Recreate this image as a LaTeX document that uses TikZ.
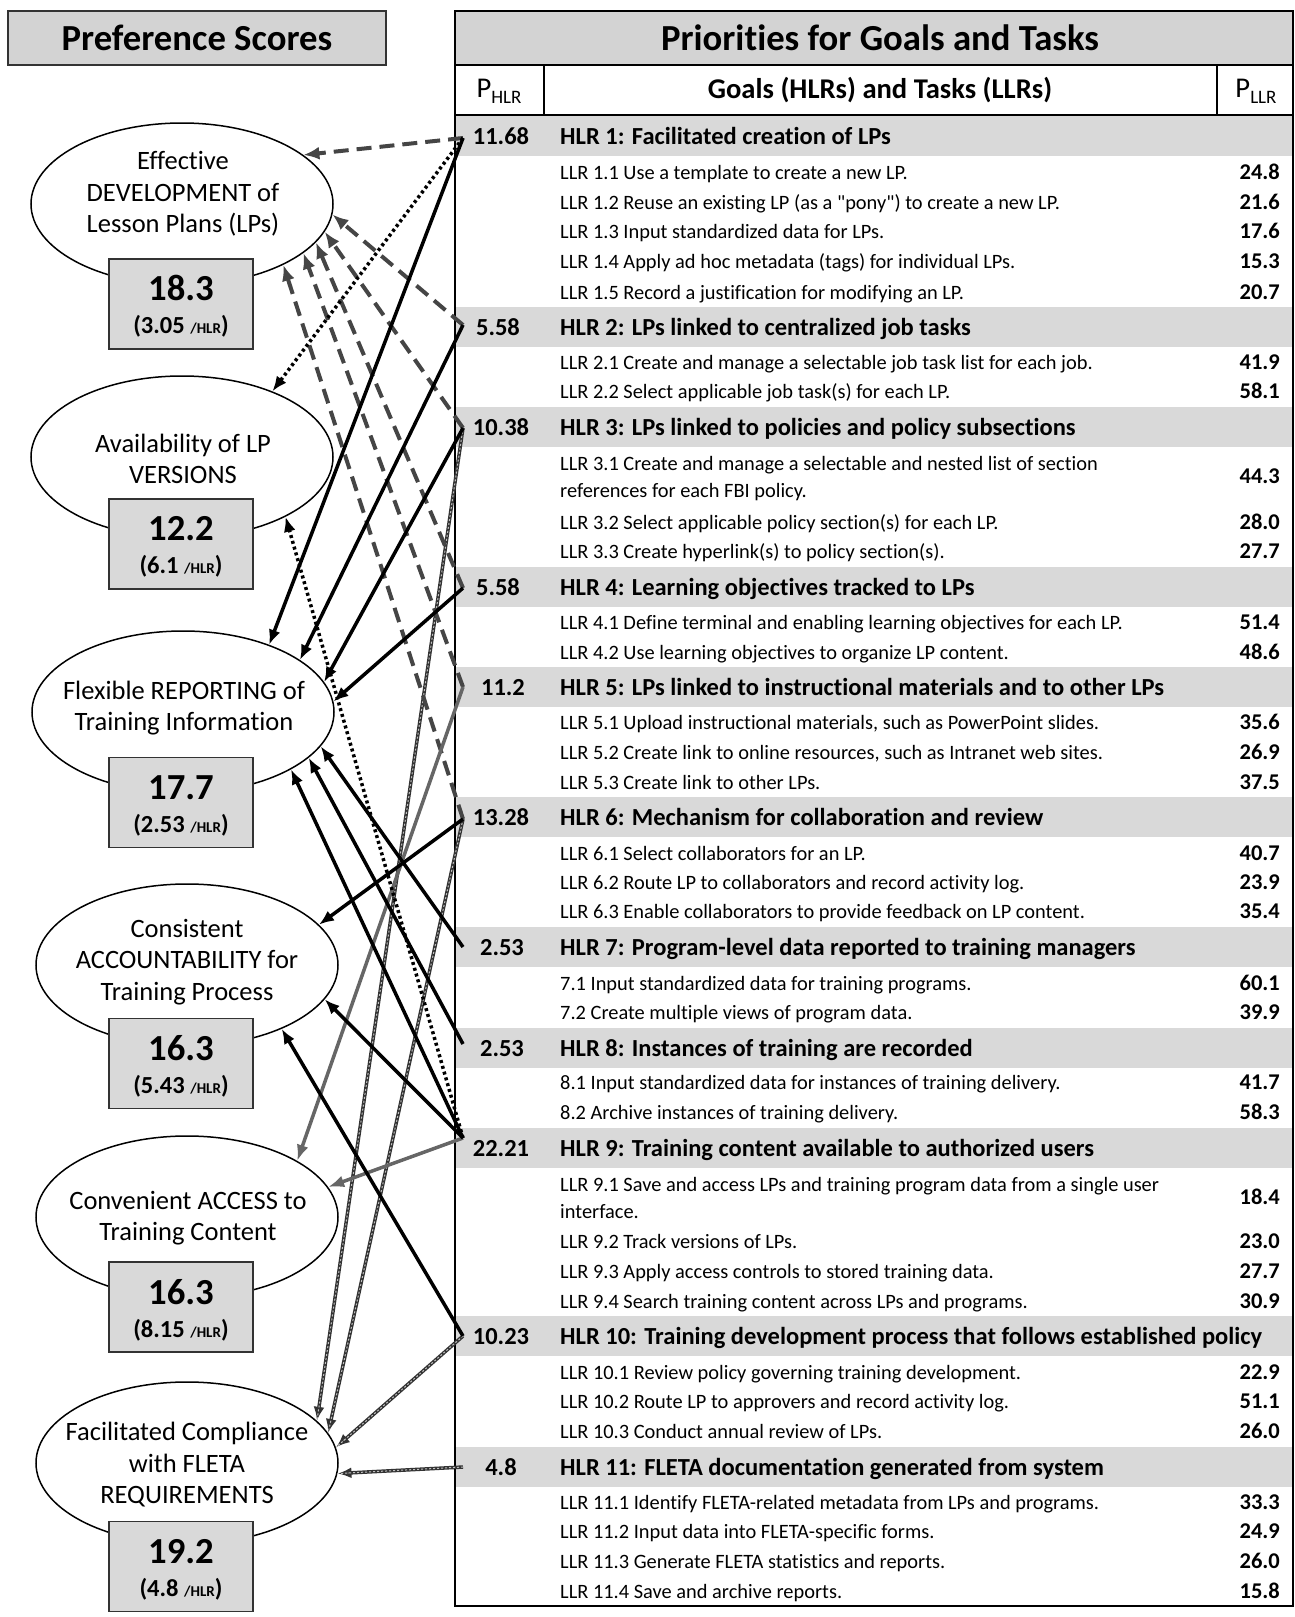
\documentclass[tikz,border=0pt]{standalone}
\usepackage{fontspec}
\setmainfont{Carlito}[Ligatures={NoCommon,TeXOff}]
\usetikzlibrary{shapes.geometric,arrows.meta}
\definecolor{bandgray}{HTML}{D9D9D9}
\definecolor{titlegray}{HTML}{D3D3D3}
\definecolor{dashgray}{HTML}{454545}
\definecolor{solidgray}{HTML}{666666}
\newcommand{\myfs}[2]{\fontsize{#1}{#2}\selectfont}
\begin{document}
\begin{tikzpicture}[x=1pt,y=-1pt,
  hnum/.style={anchor=base, font=\bfseries\myfs{24.5}{28}, inner sep=0pt},
  htxt/.style={anchor=base west, font=\bfseries\myfs{24.5}{28}, inner sep=0pt},
  ltxt/.style={anchor=base west, font=\myfs{20.4}{26.8}, inner sep=0pt},
  lval/.style={anchor=base east, font=\bfseries\myfs{22.5}{26}, inner sep=0pt},
  ell/.style={ellipse, draw=black, line width=1.5pt, minimum width=302pt, minimum height=162pt, inner sep=0pt, fill=white},
  etxt/.style={align=center, font=\myfs{26.5}{31.5}, inner sep=0pt},
  sbox/.style={draw=black!80, line width=1.5pt, fill=bandgray, minimum width=144pt, minimum height=90pt, inner sep=0pt},
  snum/.style={anchor=base, font=\bfseries\myfs{36.7}{40}, inner sep=0pt},
  ssub/.style={anchor=base, font=\bfseries\myfs{24.5}{28}, inner sep=0pt},
  solidarr/.style={draw=black, line width=3.5pt, -{Latex[length=15pt,width=12pt]}},
  dasharr/.style={draw=dashgray, line width=4pt, dash pattern=on 15pt off 8pt, -{Latex[length=16pt,width=13pt]}},
  dotarr/.style={draw=black, line width=3.5pt, dash pattern=on 3pt off 3pt, -{Latex[length=15pt,width=12pt]}},
  grayarr/.style={draw=solidgray, line width=3.5pt, -{Latex[length=16pt,width=12pt]}},
  hatcharr/.style={draw=black!80, line width=3.5pt, -{Latex[length=14pt,width=11pt,fill=gray!45]},
     postaction={draw=white!75!black, -, line width=1pt, dash pattern=on 2pt off 2pt}}
]
\useasboundingbox (0,0) rectangle (1294,1617);

% ---------- left title ----------
\node[draw=black!80, line width=2pt, fill=titlegray, minimum width=378pt, minimum height=54pt, inner sep=0pt,
      font=\bfseries\myfs{36.7}{40}] (pref) at (197,38) {Preference Scores};

% ---------- table background ----------
\fill[titlegray] (455,11) rectangle (1293,65);
\foreach \c in {136,327,427,587,687,817,947,1048,1148,1336,1467}
  \fill[bandgray] (456,\c-20) rectangle (1292,\c+20);
\draw[line width=1.5pt] (455,65) -- (1293,65);
\draw[line width=1.5pt] (455,115) -- (1293,115);
\draw[line width=1.5pt] (544,65) -- (544,115);
\draw[line width=1.5pt] (1217,65) -- (1217,115);
\draw[line width=2pt] (455,11) rectangle (1293,1606);

\node[font=\bfseries\myfs{36.7}{40}, inner sep=0pt] (title) at (880,38) {Priorities for Goals and Tasks};
\node[font=\myfs{28.6}{30}, inner sep=0pt] (phlr) at (499,91) {P\raisebox{-6pt}{\myfs{19}{20}HLR}};
\node[font=\bfseries\myfs{28.6}{30}, inner sep=0pt] (ghead) at (880,90) {Goals (HLRs) and Tasks (LLRs)};
\node[font=\myfs{28.6}{30}, inner sep=0pt] (pllr) at (1256,91) {P\raisebox{-6pt}{\myfs{19}{20}LLR}};

% ---------- HLR 1 ----------
\node[hnum] (n1) at (501,144) {11.68};
\node[htxt] (r1) at (560,144) {HLR 1: Facilitated creation of LPs};
\node[ltxt] (l11) at (560,179) {LLR 1.1 Use a template to create a new LP.};
\node[lval] (v11) at (1280,179) {24.8};
\node[ltxt] (l12) at (560,209) {LLR 1.2 Reuse an existing LP (as a "pony") to create a new LP.};
\node[lval] (v12) at (1280,209) {21.6};
\node[ltxt] (l13) at (560,238) {LLR 1.3 Input standardized data for LPs.};
\node[lval] (v13) at (1280,238) {17.6};
\node[ltxt] (l14) at (560,268) {LLR 1.4 Apply ad hoc metadata (tags) for individual LPs.};
\node[lval] (v14) at (1280,268) {15.3};
\node[ltxt] (l15) at (560,299) {LLR 1.5 Record a justification for modifying an LP.};
\node[lval] (v15) at (1280,299) {20.7};
% ---------- HLR 2 ----------
\node[hnum] (n2) at (498,335) {5.58};
\node[htxt] (r2) at (560,335) {HLR 2: LPs linked to centralized job tasks};
\node[ltxt] (l21) at (560,369) {LLR 2.1 Create and manage a selectable job task list for each job.};
\node[lval] (v21) at (1280,369) {41.9};
\node[ltxt] (l22) at (560,398) {LLR 2.2 Select applicable job task(s) for each LP.};
\node[lval] (v22) at (1280,398) {58.1};
% ---------- HLR 3 ----------
\node[hnum] (n3) at (501,435) {10.38};
\node[htxt] (r3) at (560,435) {HLR 3: LPs linked to policies and policy subsections};
\node[ltxt] (l31a) at (560,470) {LLR 3.1 Create and manage a selectable and nested list of section};
\node[ltxt] (l31b) at (560,497) {references for each FBI policy.};
\node[lval] (v31) at (1280,483) {44.3};
\node[ltxt] (l32) at (560,529) {LLR 3.2 Select applicable policy section(s) for each LP.};
\node[lval] (v32) at (1280,529) {28.0};
\node[ltxt] (l33) at (560,558) {LLR 3.3 Create hyperlink(s) to policy section(s).};
\node[lval] (v33) at (1280,558) {27.7};
% ---------- HLR 4 ----------
\node[hnum] (n4) at (498,595) {5.58};
\node[htxt] (r4) at (560,595) {HLR 4: Learning objectives tracked to LPs};
\node[ltxt] (l41) at (560,629) {LLR 4.1 Define terminal and enabling learning objectives for each LP.};
\node[lval] (v41) at (1280,629) {51.4};
\node[ltxt] (l42) at (560,659) {LLR 4.2 Use learning objectives to organize LP content.};
\node[lval] (v42) at (1280,659) {48.6};
% ---------- HLR 5 ----------
\node[hnum] (n5) at (503,695) {11.2};
\node[htxt] (r5) at (560,695) {HLR 5: LPs linked to instructional materials and to other LPs};
\node[ltxt] (l51) at (560,729) {LLR 5.1 Upload instructional materials, such as PowerPoint slides.};
\node[lval] (v51) at (1280,729) {35.6};
\node[ltxt] (l52) at (560,759) {LLR 5.2 Create link to online resources, such as Intranet web sites.};
\node[lval] (v52) at (1280,759) {26.9};
\node[ltxt] (l53) at (560,789) {LLR 5.3 Create link to other LPs.};
\node[lval] (v53) at (1280,789) {37.5};
% ---------- HLR 6 ----------
\node[hnum] (n6) at (501,825) {13.28};
\node[htxt] (r6) at (560,825) {HLR 6: Mechanism for collaboration and review};
\node[ltxt] (l61) at (560,860) {LLR 6.1 Select collaborators for an LP.};
\node[lval] (v61) at (1280,860) {40.7};
\node[ltxt] (l62) at (560,889) {LLR 6.2 Route LP to collaborators and record activity log.};
\node[lval] (v62) at (1280,889) {23.9};
\node[ltxt] (l63) at (560,918) {LLR 6.3 Enable collaborators to provide feedback on LP content.};
\node[lval] (v63) at (1280,918) {35.4};
% ---------- HLR 7 ----------
\node[hnum] (n7) at (502,955) {2.53};
\node[htxt] (r7) at (560,955) {HLR 7: Program-level data reported to training managers};
\node[ltxt] (l71) at (560,990) {7.1 Input standardized data for training programs.};
\node[lval] (v71) at (1280,990) {60.1};
\node[ltxt] (l72) at (560,1019) {7.2 Create multiple views of program data.};
\node[lval] (v72) at (1280,1019) {39.9};
% ---------- HLR 8 ----------
\node[hnum] (n8) at (502,1056) {2.53};
\node[htxt] (r8) at (560,1056) {HLR 8: Instances of training are recorded};
\node[ltxt] (l81) at (560,1089) {8.1 Input standardized data for instances of training delivery.};
\node[lval] (v81) at (1280,1089) {41.7};
\node[ltxt] (l82) at (560,1119) {8.2 Archive instances of training delivery.};
\node[lval] (v82) at (1280,1119) {58.3};
% ---------- HLR 9 ----------
\node[hnum] (n9) at (501,1156) {22.21};
\node[htxt] (r9) at (560,1156) {HLR 9: Training content available to authorized users};
\node[ltxt] (l91a) at (560,1191) {LLR 9.1 Save and access LPs and training program data from a single user};
\node[ltxt] (l91b) at (560,1218) {interface.};
\node[lval] (v91) at (1280,1204) {18.4};
\node[ltxt] (l92) at (560,1248) {LLR 9.2 Track versions of LPs.};
\node[lval] (v92) at (1280,1248) {23.0};
\node[ltxt] (l93) at (560,1278) {LLR 9.3 Apply access controls to stored training data.};
\node[lval] (v93) at (1280,1278) {27.7};
\node[ltxt] (l94) at (560,1308) {LLR 9.4 Search training content across LPs and programs.};
\node[lval] (v94) at (1280,1308) {30.9};
% ---------- HLR 10 ----------
\node[hnum] (n10) at (501,1344) {10.23};
\node[htxt] (r10) at (560,1344) {HLR 10: Training development process that follows established policy};
\node[ltxt] (l101) at (560,1379) {LLR 10.1 Review policy governing training development.};
\node[lval] (v101) at (1280,1379) {22.9};
\node[ltxt] (l102) at (560,1408) {LLR 10.2 Route LP to approvers and record activity log.};
\node[lval] (v102) at (1280,1408) {51.1};
\node[ltxt] (l103) at (560,1438) {LLR 10.3 Conduct annual review of LPs.};
\node[lval] (v103) at (1280,1438) {26.0};
% ---------- HLR 11 ----------
\node[hnum] (n11) at (501,1475) {4.8};
\node[htxt] (r11) at (560,1475) {HLR 11: FLETA documentation generated from system};
\node[ltxt] (l111) at (560,1509) {LLR 11.1 Identify FLETA-related metadata from LPs and programs.};
\node[lval] (v111) at (1280,1509) {33.3};
\node[ltxt] (l112) at (560,1538) {LLR 11.2 Input data into FLETA-specific forms.};
\node[lval] (v112) at (1280,1538) {24.9};
\node[ltxt] (l113) at (560,1568) {LLR 11.3 Generate FLETA statistics and reports.};
\node[lval] (v113) at (1280,1568) {26.0};
\node[ltxt] (l114) at (560,1598) {LLR 11.4 Save and archive reports.};
\node[lval] (v114) at (1280,1598) {15.8};

% ---------- ellipses ----------
\node[ell] (e1) at (182,204) {};
\node[ell] (e2) at (182,457) {};
\node[ell] (e3) at (183,712) {};
\node[ell] (e4) at (187,965) {};
\node[ell] (e5) at (187,1217) {};
\node[ell] (e6) at (187,1463) {};
\node[etxt] (t1) at (183,194) {Effective\\DEVELOPMENT of\\Lesson Plans (LPs)};
\node[etxt] (t2) at (183,459) {Availability of LP\\VERSIONS};
\node[etxt] (t3) at (184,708) {Flexible REPORTING of\\Training Information};
\node[etxt] (t4) at (187,962) {Consistent\\ACCOUNTABILITY for\\Training Process};
\node[etxt] (t5) at (188,1218) {Convenient ACCESS to\\Training Content};
\node[etxt] (t6) at (187,1465) {Facilitated Compliance\\with FLETA\\REQUIREMENTS};

% ---------- score boxes ----------
\node[sbox] (b1) at (181,304) {};
\node[snum] (s1) at (181,300) {18.3};
\node[ssub] (u1) at (181,333) {(3.05 {\myfs{15}{15}/HLR})};
\node[sbox] (b2) at (181,544) {};
\node[snum] (s2) at (181,540) {12.2};
\node[ssub] (u2) at (181,573) {(6.1 {\myfs{15}{15}/HLR})};
\node[sbox] (b3) at (181,802.5) {};
\node[snum] (s3) at (181,799) {17.7};
\node[ssub] (u3) at (181,832) {(2.53 {\myfs{15}{15}/HLR})};
\node[sbox] (b4) at (181,1063.5) {};
\node[snum] (s4) at (181,1060) {16.3};
\node[ssub] (u4) at (181,1093) {(5.43 {\myfs{15}{15}/HLR})};
\node[sbox] (b5) at (181,1307) {};
\node[snum] (s5) at (181,1304) {16.3};
\node[ssub] (u5) at (181,1337) {(8.15 {\myfs{15}{15}/HLR})};
\node[sbox] (b6) at (181,1566.5) {};
\node[snum] (s6) at (181,1563) {19.2};
\node[ssub] (u6) at (181,1596) {(4.8 {\myfs{15}{15}/HLR})};

% ---------- connector start points ----------
\coordinate (h1) at (463,138);
\coordinate (h2) at (463,325);
\coordinate (h3) at (463,428);
\coordinate (h4) at (463,588);
\coordinate (h5) at (463,687);
\coordinate (h6) at (463,819);
\coordinate (h7) at (463,947);
\coordinate (h8) at (463,1044);
\coordinate (h9) at (463,1138);
\coordinate (h10) at (463,1336);
\coordinate (h11) at (463,1467);

% ---------- connectors ----------
\draw[hatcharr] (h3) -- (e6.18);
\draw[hatcharr] (h6) -- (e6.12);
\draw[hatcharr] (h10) -- (e6.6);
\draw[hatcharr] (h11) -- (e6.-4);
\draw[dasharr] (h1) -- (e1.22);
\draw[dasharr] (h2) -- (e1.-4);
\draw[dasharr] (h3) -- (e1.-11);
\draw[dasharr] (h4) -- (e1.-16);
\draw[dasharr] (h5) -- (e1.-22);
\draw[dasharr] (h6) -- (e1.-31);
\draw[grayarr] (h5) -- (e5.27);
\draw[grayarr] (h9) -- (e5.12);
\draw[dotarr] (h1) -- (e2.36);
\draw[dotarr] (h9) -- (e2.-30);
\draw[solidarr] (h1) -- (e3.38);
\draw[solidarr] (h2) -- (e3.24);
\draw[solidarr] (h3) -- (e3.12);
\draw[solidarr] (h4) -- (e3.4);
\draw[solidarr] (h7) -- (e3.-14);
\draw[solidarr] (h8) -- (e3.-20);
\draw[solidarr] (h9) -- (e3.-28);
\draw[solidarr] (h6) -- (e4.17);
\draw[solidarr] (h9) -- (e4.-14);
\draw[solidarr] (h10) -- (e4.-34);
\end{tikzpicture}
\end{document}
